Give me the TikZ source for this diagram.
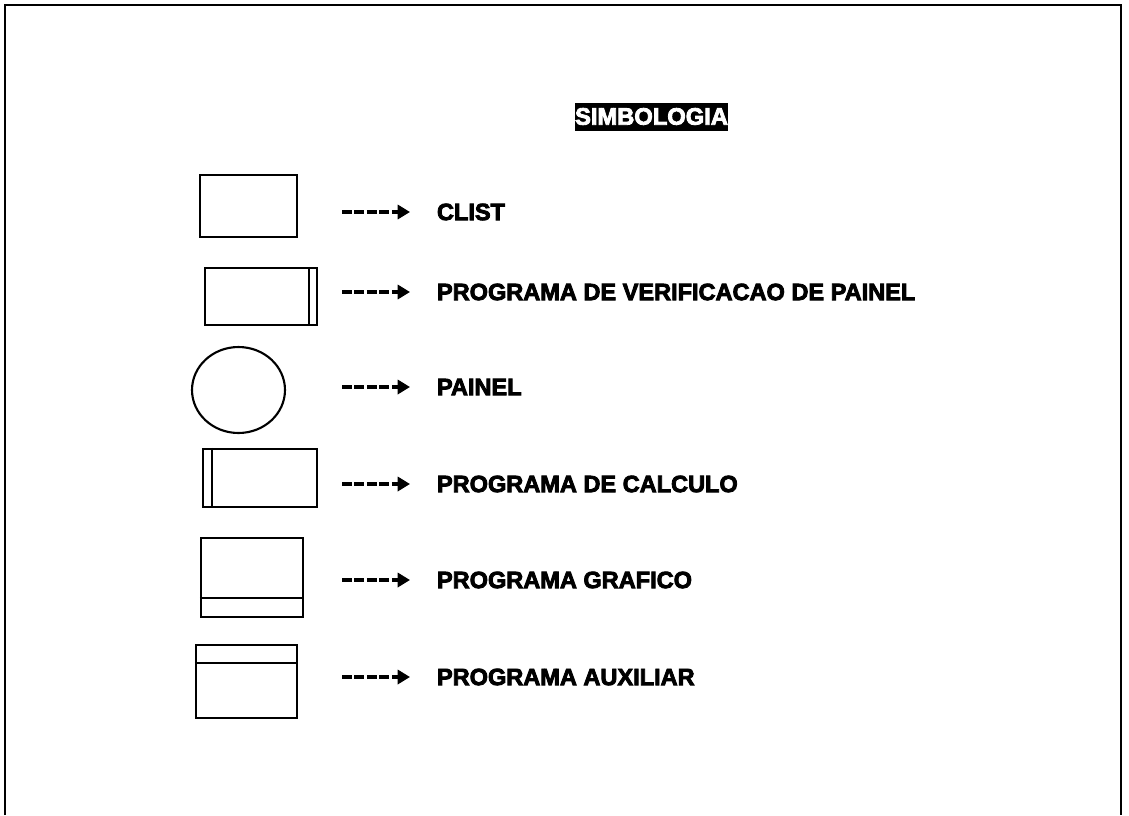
\documentclass[tikz,border=0pt]{standalone}
\usepackage{fontspec}
\setmainfont{Liberation Sans}[BoldFeatures={FakeBold=3.5}]
\usepackage{tikz}
\usetikzlibrary{positioning,arrows.meta,shapes.geometric}

\begin{document}
\begin{tikzpicture}[x=0.02cm, y=-0.02cm,
  symbox/.style={draw, line width=1.2pt, inner sep=0pt},
  legtext/.style={anchor=west, inner sep=0pt, outer xsep=0.54cm, font=\fontsize{13.4}{15}\selectfont\bfseries},
  legarrow/.style={line width=2pt, dash pattern=on 5.5pt off 1.6pt, -{Triangle[length=7pt,width=8pt]}}]
\useasboundingbox (0,0) rectangle (1129,815);

% frame
\draw[line width=1.2pt] (5,815) -- (5,5) -- (1121,5) -- (1121,815);

\node[fill=black, text=white, inner sep=0pt, minimum width=3.06cm, minimum height=0.56cm, font=\fontsize{13.5}{15}\selectfont\bfseries] at (651.5, 116.5) (title) {SIMBOLOGIA};

\node[symbox, minimum width=1.94cm, minimum height=1.24cm] at (248.5, 206) (b1) {};
\coordinate (a1) at (342, 212);
\node[legtext] at (410, 212) (t1) {CLIST};
\draw[legarrow] (a1) -- (t1.west);

\node[symbox, minimum width=2.24cm, minimum height=1.14cm] at (261, 296.5) (b2) {};
\draw[line width=1.2pt] ([xshift=-0.18cm]b2.north east) -- ([xshift=-0.18cm]b2.south east);
\coordinate (a2) at (342, 292);
\node[legtext] at (410, 292) (t2) {PROGRAMA DE VERIFICACAO DE PAINEL};
\draw[legarrow] (a2) -- (t2.west);

\node[symbox, ellipse, minimum width=1.86cm, minimum height=1.72cm] at (238.5, 390) (c3) {};
\coordinate (a3) at (342, 387);
\node[legtext] at (410, 387) (t3) {PAINEL};
\draw[legarrow] (a3) -- (t3.west);

\node[symbox, minimum width=2.28cm, minimum height=1.16cm] at (260, 478) (b4) {};
\draw[line width=1.2pt] ([xshift=0.2cm]b4.north west) -- ([xshift=0.2cm]b4.south west);
\coordinate (a4) at (342, 484);
\node[legtext] at (410, 484) (t4) {PROGRAMA DE CALCULO};
\draw[legarrow] (a4) -- (t4.west);

\node[symbox, minimum width=2.04cm, minimum height=1.58cm] at (252, 577.5) (b5) {};
\draw[line width=1.2pt] ([yshift=0.4cm]b5.south west) -- ([yshift=0.4cm]b5.south east);
\coordinate (a5) at (342, 580);
\node[legtext] at (410, 580) (t5) {PROGRAMA GRAFICO};
\draw[legarrow] (a5) -- (t5.west);

\node[symbox, minimum width=2.02cm, minimum height=1.46cm] at (246.5, 681.5) (b6) {};
\draw[line width=1.2pt] ([yshift=-0.38cm]b6.north west) -- ([yshift=-0.38cm]b6.north east);
\coordinate (a6) at (342, 677);
\node[legtext] at (410, 677) (t6) {PROGRAMA AUXILIAR};
\draw[legarrow] (a6) -- (t6.west);

\end{tikzpicture}
\end{document}
